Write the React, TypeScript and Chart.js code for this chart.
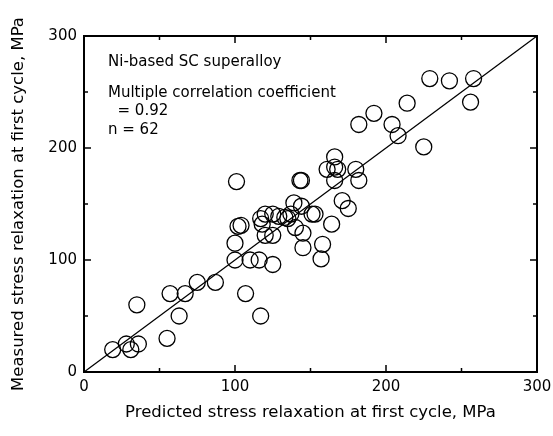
import React, { useEffect, useRef } from "react";
import { Chart, registerables } from "chart.js";

Chart.register(...registerables);

const predicted: number[] = [
  19, 28, 31, 36, 35, 55, 57, 63, 67, 75, 87, 100, 100, 107, 117, 102, 104, 110, 116, 125,
  120, 125, 101, 117, 118, 120, 129, 133, 137, 139, 140, 144, 145, 143, 144, 151, 153, 158,
  157, 164, 161, 166, 168, 166, 166, 180, 182, 171, 175, 182, 192, 204, 208, 214, 225, 229,
  242, 258, 256, 145, 125, 135,
];
const measured: number[] = [
  20, 25, 20, 25, 60, 30, 70, 50, 70, 80, 80, 100, 115, 70, 50, 130, 131, 100, 100, 96,
  122, 122, 170, 137, 132, 141, 139, 138, 141, 151, 129, 148, 111, 171, 171, 141, 141, 114,
  101, 132, 181, 183, 181, 192, 171, 181, 171, 153, 146, 221, 231, 221, 211, 240, 201, 262,
  260, 262, 241, 124, 141, 137,
];
const lineX: number[] = [0, 300];
const lineY: number[] = [0, 300];
const axisTicks: number[] = [0, 100, 200, 300];
const minorTicks: number[] = [50, 150, 250];
const notes: string[] = [
  "Ni-based SC superalloy",
  "Multiple correlation coefficient",
  "  = 0.92",
  "n = 62",
];

const FONT = "'DejaVu Sans', sans-serif";

const framePlugin = {
  id: "frame",
  afterDraw(chart: any) {
    const { ctx, chartArea: a, scales } = chart;
    const xs = scales.x;
    const ys = scales.y;
    ctx.save();
    ctx.strokeStyle = "#000";
    ctx.lineWidth = 2;
    ctx.strokeRect(a.left, a.top, a.right - a.left, a.bottom - a.top);
    ctx.lineWidth = 1.5;
    const all = [...axisTicks.map((v) => [v, 7]), ...minorTicks.map((v) => [v, 4])];
    for (const [v, len] of all) {
      const px = xs.getPixelForValue(v);
      ctx.beginPath();
      ctx.moveTo(px, a.bottom);
      ctx.lineTo(px, a.bottom - len);
      ctx.moveTo(px, a.top);
      ctx.lineTo(px, a.top + len);
      const py = ys.getPixelForValue(v);
      ctx.moveTo(a.left, py);
      ctx.lineTo(a.left + len, py);
      ctx.moveTo(a.right, py);
      ctx.lineTo(a.right - len, py);
      ctx.stroke();
    }
    ctx.fillStyle = "#000";
    ctx.font = `15px ${FONT}`;
    ctx.textBaseline = "middle";
    const ys0 = [a.top + 26, a.top + 57, a.top + 75, a.top + 94];
    notes.forEach((t, i) => ctx.fillText(t, a.left + 24, ys0[i]));
    ctx.restore();
  },
};

export default function App() {
  const ref = useRef<HTMLCanvasElement>(null);
  useEffect(() => {
    document.body.style.margin = "0";
    const chart = new Chart(ref.current!, {
      type: "scatter",
      data: {
        datasets: [
          {
            type: "line",
            data: lineX.map((x, i) => ({ x, y: lineY[i] })),
            borderColor: "#000",
            borderWidth: 1.3,
            pointRadius: 0,
            fill: false,
          } as any,
          {
            data: predicted.map((x, i) => ({ x, y: measured[i] })),
            pointStyle: "circle",
            pointRadius: 8,
            pointHoverRadius: 8,
            backgroundColor: "rgba(0,0,0,0)",
            borderColor: "#000",
            borderWidth: 1.3,
          },
        ],
      },
      plugins: [framePlugin],
      options: {
        animation: false,
        responsive: false,
        events: [],
        layout: { padding: { top: 36, right: 16, bottom: 9, left: 5 } },
        plugins: { legend: { display: false }, tooltip: { enabled: false } },
        scales: {
          x: {
            type: "linear",
            min: 0,
            max: 300,
            afterFit: (s: any) => {
              s.height = 55;
              s.paddingLeft = 0;
              s.paddingRight = 0;
            },
            grid: { display: false, drawTicks: false },
            border: { display: false },
            ticks: {
              stepSize: 100,
              padding: 6,
              color: "#000",
              font: { family: FONT, size: 15 },
            },
            title: {
              display: true,
              text: "Predicted stress relaxation at first cycle, MPa",
              color: "#000",
              font: { family: FONT, size: 16.5 },
            },
          },
          y: {
            type: "linear",
            min: 0,
            max: 300,
            afterFit: (s: any) => {
              s.width = 79;
              s.paddingTop = 0;
              s.paddingBottom = 0;
            },
            grid: { display: false, drawTicks: false },
            border: { display: false },
            ticks: {
              stepSize: 100,
              padding: 7,
              color: "#000",
              font: { family: FONT, size: 15 },
            },
            title: {
              display: true,
              text: "Measured stress relaxation at first cycle, MPa",
              color: "#000",
              font: { family: FONT, size: 16.5 },
            },
          },
        },
      },
    });
    return () => chart.destroy();
  }, []);
  return (
    <div style={{ width: 553, height: 436 }}>
      <canvas ref={ref} width={553} height={436} />
    </div>
  );
}
